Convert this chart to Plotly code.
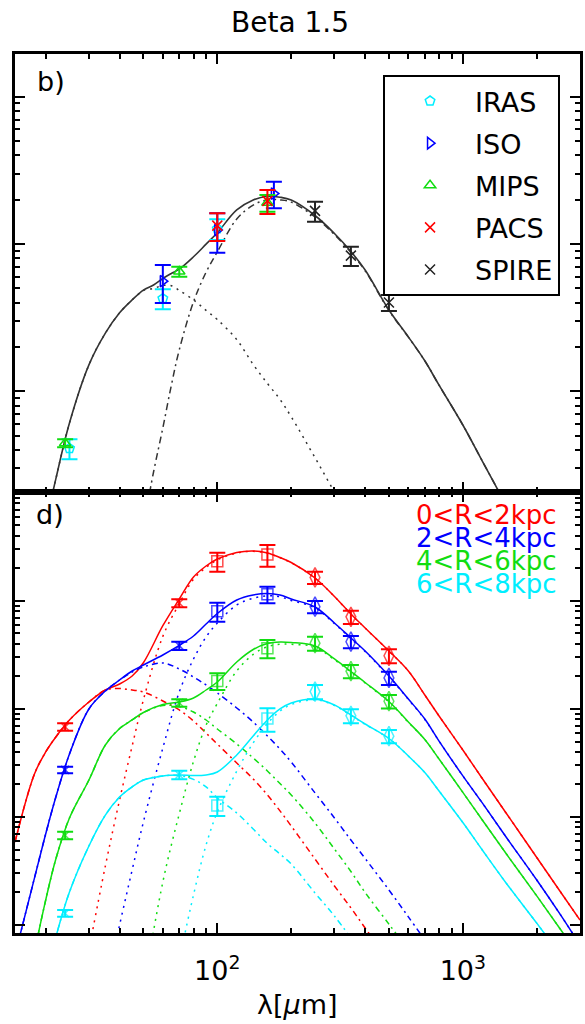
import math
import plotly.graph_objects as go
from plotly.subplots import make_subplots

# ================= panel b) : integrated SED (arbitrary flux units) =================
lam_iras = [25, 60, 100]
flux_iras = [4.09, 42.6, 126.9]
err_iras = [0.63, 6.6, 20.3]

lam_iso = [60, 100, 170]
flux_iso = [55.9, 124.4, 219.9]
err_iso = [16.1, 37.1, 45.0]

lam_mips = [24, 70, 160]
flux_mips = [4.44, 65.0, 190.4]
err_mips = [0.28, 5.0, 24.7]

lam_pacs = [100, 160]
flux_pacs = [133.2, 196.2]
err_pacs = [28.4, 36.4]

lam_spire = [250, 350, 500]
flux_spire = [167.8, 83.4, 40.1]
err_spire = [26.0, 12.5, 5.0]

# model curves of panel b)
lam_b_total = [20, 22, 25, 30, 35, 40, 45, 50, 55, 60, 65, 70, 80, 90, 100, 120, 140, 160, 180,
               200, 250, 300, 350, 400, 500, 600, 700, 800, 1000, 1200, 1500]
flux_b_total = [1.24, 2.54, 6.09, 15.1, 24.8, 34.1, 41.7, 48.6, 52.7, 58.3, 63.1, 67.5, 81.9, 99.7,
                119.1, 170.2, 198.9, 210.8, 207.9, 198.9, 156.1, 117.8, 88.9, 66.6, 35.6, 23.4,
                16.1, 11.0, 5.9, 3.36, 1.69]
lam_b_warm = [20, 22, 25, 30, 35, 40, 45, 50, 55, 60, 65, 70, 80, 90, 100, 120, 140, 160, 180,
              200, 250, 300, 350]
flux_b_warm = [1.24, 2.54, 6.09, 15.1, 24.8, 34.1, 41.7, 48.3, 49.9, 52.3, 52.1, 48.4, 41.7, 35.4,
               30.7, 22.4, 15.2, 11.3, 8.81, 6.71, 3.54, 2.07, 1.34]
lam_b_cold = [50, 55, 60, 65, 70, 80, 90, 100, 120, 140, 160, 180, 200, 250, 300, 350, 400, 500,
              600, 700, 800, 1000, 1200, 1500]
flux_b_cold = [1.20, 2.83, 5.63, 11.0, 19.1, 40.5, 64.3, 88.4, 147.8, 183.7, 199.5, 199.1, 192.3,
               152.5, 115.7, 87.6, 65.8, 35.3, 23.3, 16.1, 11.0, 5.9, 3.36, 1.69]

# ================= panel d) : radial bins =================
lam_bins = [24, 70, 100, 160, 250, 350, 500]
bin_labels = ["0<R<2kpc", "2<R<4kpc", "4<R<6kpc", "6<R<8kpc"]
flux_r02 = [68.3, 956, 2334, 2689, 1652, 713, 311]
err_r02 = [5.4, 81, 467, 611, 215, 100, 46]
flux_r24 = [27.3, 386, 804, 1155, 885, 419.5, 194]
err_r24 = [1.9, 34, 161, 202, 115, 54.7, 27]
flux_r46 = [6.77, 114, 182, 365, 407, 224, 118]
err_r46 = [0.55, 9, 32, 70, 60, 31.5, 16.7]
flux_r68 = [1.285, 24.6, 12.8, 81.6, 144.9, 86.5, 56]
err_r68 = [0.09, 2.2, 2.6, 20, 22, 12.8, 7.9]

lam_grid = [15, 18, 20, 22, 25, 30, 35, 40, 45, 50, 60, 70, 80, 90, 100, 120, 140, 160, 180, 200,
            250, 300, 350, 400, 500, 600, 700, 800, 1000, 1200, 1500, 2000, 2500, 3000]
N = None
r02_total = [5.87, 25.0, 40.0, 55.1, 79.1, 116.1, 149.9, 170.4, 202.1, 268, 590, 1043.6, 1668, 2109,
             2448, 2813, 2904, 2783, 2528, 2273, 1633, 1101, 758, 562.3, 344.4, 224.8, 134.8, 86.1,
             41.7, 22.7, 10.9, 4.22, 2.02, 1.11]
r02_warm = [5.87, 25.0, 40.0, 55.1, 79.1, 116.1, 149.9, 154.8, 149.9, 143.7, 118.6, 97.9, 77.4, 59.9,
            47.4, 31.6, 22.5, 16.0, 11.4, 8.25, 4.08, 2.30, 1.44, 0.938, 0.464, N, N, N, N, N, N, N, N, N]
r02_cold = [N, N, N, N, N, 0.587, 3.52, 14.4, 45.4, 121.2, 470, 946, 1591, 2047, 2402, 2781, 2881,
            2767, 2517, 2265, 1629, 1099, 757, 561, 344, 224.8, 134.8, 86.1, 41.7, 22.7, 10.9, 4.22,
            2.02, 1.11]
r24_total = [0.528, 2.72, 6.96, 15.3, 38.3, 100, 146.8, 185.6, 224.8, 255.5, 316, 387.3, 474.2, 612.4,
             766.0, 1021.6, 1136.5, 1173.3, 1136.5, 1043.6, 879.9, 625.7, 454.4, 344.4, 202.1, 123.8,
             80.8, 50.5, 24.0, 13.5, 6.53, 2.61, 1.24, 0.653]
r24_warm = [0.528, 2.72, 6.96, 15.3, 38.3, 100, 146.8, 185.6, 220.1, 244.8, 266.7, 234.6, 197.8, 166.8,
            140.7, 102.2, 75.8, 56.2, 42.6, 32.3, 16.7, 9.79, 6.12, 4.13, 2.11, 1.19, 0.726,
            N, N, N, N, N, N, N]
r24_cold = [N, N, N, N, N, N, 0.25, 1.0, 3.23, 8.99, 43.5, 143.7, 290.4, 464.2, 625.7, 918, 1060.7,
            1117.1, 1093.9, 1011.3, 863.2, 615.9, 448.3, 340.3, 200, 122.6, 80.1, 50.5, 24.0, 13.5,
            6.53, 2.61, 1.24, 0.653]
r46_total = [N, 0.562, 1.70, 4.08, 9.79, 22.0, 46.4, 66.0, 79.1, 92.8, 110.1, 116.1, 126.5, 149.9,
             177.8, 272.4, 355.5, 404.2, 417.3, 412.8, 383.1, 290.4, 222.5, 176.0, 117.3, 75.8, 52.2,
             34.4, 16.9, 9.38, 4.59, 1.86, 0.908, 0.505]
r46_warm = [N, 0.562, 1.70, 4.08, 9.79, 22.0, 46.4, 66.0, 79.1, 92.8, 107.8, 105.5, 93.8, 79.1, 65.3,
            47.4, 35.2, 26.7, 20.4, 16.0, 8.80, 5.05, 3.13, 2.0, 1.02, 0.587, N, N, N, N, N, N, N, N]
r46_cold = [N, N, N, N, N, N, N, N, N, 0.25, 2.50, 10.7, 32.7, 70.8, 112.5, 225.0, 320.3, 377.5,
            396.9, 396.8, 374.3, 285.4, 219.4, 174, 116.3, 75.2, 52.2, 34.4, 16.9, 9.38, 4.59, 1.86,
            0.908, 0.505]
r68_total = [N, N, 0.33, 0.774, 2.02, 5.39, 10.4, 15.3, 19.0, 22.0, 24.0, 24.5, 24.2, 24.5, 26.1,
             37.5, 56.2, 79.1, 100, 113.6, 123.8, 108.9, 88.0, 72.6, 53.3, 36.7, 25.8, 17.4, 8.89,
             4.95, 2.45, 1.04, 0.528, N]
r68_warm = [N, N, 0.33, 0.774, 2.02, 5.39, 10.4, 15.3, 19.0, 22.0, 24.0, 24.2, 22.3, 19.0, 15.0, 10.9,
            7.74, 5.68, 4.54, 3.67, 1.98, 1.21, 0.758, N, N, N, N, N, N, N, N, N, N, N]
r68_cold = [N, N, N, N, N, N, N, N, N, N, N, 0.474, 1.9, 5.5, 11.1, 26.6, 48.5, 73.4, 95.5, 109.9,
            121.8, 107.7, 87.2, 72.1, 53.3, 36.7, 25.8, 17.4, 8.89, 4.95, 2.45, 1.04, 0.528, N]

# ================= styling =================
FONT = "DejaVu Sans"
C_RED, C_BLUE, C_GREEN, C_CYAN = "#FF0000", "#0000FF", "#11DD11", "#00EEFF"
bin_colors = [C_RED, C_BLUE, C_GREEN, C_CYAN]
bin_symbols = ["x-thin", "x-thin", "square-open", "square-open",
               "diamond-tall-open", "diamond-tall-open", "diamond-tall-open"]
bin_sizes = [8, 8, 11, 11, 14, 14, 14]

fig = make_subplots(rows=2, cols=1, shared_xaxes=True, vertical_spacing=0,
                    row_heights=[438, 441])

# ---- panel b) curves ----
fig.add_trace(go.Scatter(x=lam_b_warm, y=flux_b_warm, mode="lines", showlegend=False,
                         line=dict(color="#333333", width=1.5, dash="2px,5px", shape="spline")),
              row=1, col=1)
fig.add_trace(go.Scatter(x=lam_b_cold, y=flux_b_cold, mode="lines", showlegend=False,
                         line=dict(color="#333333", width=1.5, dash="7px,4px,2px,4px",
                                   shape="spline")), row=1, col=1)
fig.add_trace(go.Scatter(x=lam_b_total, y=flux_b_total, mode="lines", showlegend=False,
                         line=dict(color="#333333", width=1.6, shape="spline")), row=1, col=1)

# ---- panel b) data ----
def add_points(name, lam, flux, err, color, symbol, group):
    fig.add_trace(go.Scatter(
        x=lam, y=flux, mode="markers", name=name, legendgroup=group,
        marker=dict(symbol=symbol, size=10, color=color, line=dict(color=color, width=1.5)),
        error_y=dict(type="data", array=err, color=color, thickness=2, width=8)),
        row=1, col=1)

add_points("IRAS", lam_iras, flux_iras, err_iras, C_CYAN, "pentagon-open", "g1")
add_points("ISO", lam_iso, flux_iso, err_iso, C_BLUE, "triangle-right-open", "g2")
add_points("MIPS", lam_mips, flux_mips, err_mips, C_GREEN, "triangle-up-open", "g3")
add_points("PACS", lam_pacs, flux_pacs, err_pacs, C_RED, "x-thin", "g4")
add_points("SPIRE", lam_spire, flux_spire, err_spire, "#222222", "x-thin", "g5")

# ---- panel d) ----
bins = [(r02_total, r02_warm, r02_cold, flux_r02, err_r02),
        (r24_total, r24_warm, r24_cold, flux_r24, err_r24),
        (r46_total, r46_warm, r46_cold, flux_r46, err_r46),
        (r68_total, r68_warm, r68_cold, flux_r68, err_r68)]
for (tot, warm, cold, fl, er), col in zip(bins, bin_colors):
    fig.add_trace(go.Scatter(x=lam_grid, y=cold, mode="lines", showlegend=False,
                             line=dict(color=col, width=1.5, dash="2px,5px", shape="spline")),
                  row=2, col=1)
    fig.add_trace(go.Scatter(x=lam_grid, y=warm, mode="lines", showlegend=False,
                             line=dict(color=col, width=1.5, dash="6px,4px,2px,4px",
                                       shape="spline")), row=2, col=1)
    fig.add_trace(go.Scatter(x=lam_grid, y=tot, mode="lines", showlegend=False,
                             line=dict(color=col, width=1.5, shape="spline")), row=2, col=1)
    fig.add_trace(go.Scatter(
        x=lam_bins, y=fl, mode="markers", showlegend=False,
        marker=dict(symbol=bin_symbols, size=bin_sizes, color=col, line=dict(color=col, width=1.5)),
        error_y=dict(type="data", array=er, color=col, thickness=2, width=8)), row=2, col=1)

# ---- axes ----
def minor_vals(e0, e1):
    return [m * 10 ** e for e in range(e0, e1 + 1) for m in range(2, 10)]

axis_common = dict(type="log", showline=True, linewidth=3, linecolor="black", mirror="allticks",
                   ticks="inside", ticklen=10, tickwidth=2, tickcolor="black", showgrid=False,
                   zeroline=False)
x_range = [math.log10(15), math.log10(3000)]
for r in (1, 2):
    fig.update_xaxes(axis_common, range=x_range, tickmode="array", tickvals=[100, 1000],
                     ticktext=["10<sup>2</sup>", "10<sup>3</sup>"],
                     minor=dict(ticks="inside", ticklen=5, tickwidth=1.5, tickcolor="black",
                                tickmode="array", tickvals=minor_vals(1, 3), showgrid=False),
                     row=r, col=1)
fig.update_xaxes(showticklabels=False, row=1, col=1)
fig.update_xaxes(tickfont=dict(size=27, family=FONT), ticklabelstandoff=12, row=2, col=1)

fig.update_yaxes(axis_common, range=[0.316, 3.29], tickmode="array", tickvals=[1, 10, 100, 1000],
                 showticklabels=False,
                 minor=dict(ticks="inside", ticklen=5, tickwidth=1.5, tickcolor="black",
                            tickmode="array", tickvals=minor_vals(0, 3), showgrid=False),
                 row=1, col=1)
fig.update_yaxes(axis_common, range=[-0.074, 4.009], tickmode="array",
                 tickvals=[1, 10, 100, 1000, 10000], showticklabels=False,
                 minor=dict(ticks="inside", ticklen=5, tickwidth=1.5, tickcolor="black",
                            tickmode="array", tickvals=minor_vals(0, 3), showgrid=False),
                 row=2, col=1)

# ---- texts ----
def px_x(px):
    return (px - 15) / 568.0

def px_y(py):
    return (933 - py) / 879.0

annotations = [
    dict(text="b)", x=px_x(51), y=px_y(81)),
    dict(text="d)", x=px_x(50), y=px_y(514)),
    dict(text="λ[<i>μ</i>m]", x=px_x(299), y=px_y(1004)),
]
for a in annotations:
    a.update(xref="paper", yref="paper", showarrow=False, xanchor="center", yanchor="middle",
             font=dict(size=27, family=FONT, color="black"))
label_y = [515, 538, 561, 584]
for lab, col, yy in zip(bin_labels, bin_colors, label_y):
    annotations.append(dict(text=lab.replace("<", "&lt;"), x=px_x(562), y=px_y(yy), xref="paper",
                            yref="paper", showarrow=False, xanchor="right", yanchor="middle",
                            font=dict(size=26, family=FONT, color=col)))

fig.update_layout(
    width=585, height=1024,
    margin=dict(l=15, r=2, t=54, b=91),
    plot_bgcolor="white", paper_bgcolor="white",
    font=dict(family=FONT, color="black"),
    title=dict(text="Beta 1.5", x=290 / 585, xref="container", xanchor="center",
               y=1 - 22 / 1024, yref="container", yanchor="middle",
               font=dict(size=28, family=FONT, color="black")),
    legend=dict(x=px_x(385), y=px_y(75), xanchor="left", yanchor="top", bordercolor="black",
                borderwidth=2, bgcolor="white", font=dict(size=27, family=FONT),
                tracegroupgap=4, itemwidth=80, traceorder="grouped"),
    annotations=annotations,
)

fig.write_html("out.html")
